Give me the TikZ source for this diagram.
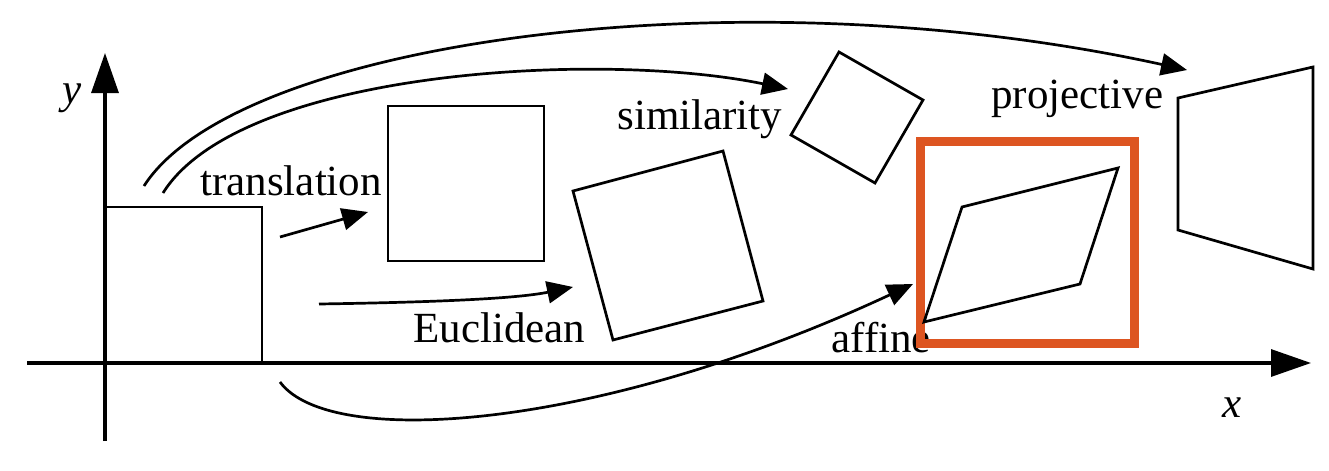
\documentclass[tikz,border=0pt]{standalone}
\usepackage{fontspec}
\setmainfont{Liberation Serif}
\usetikzlibrary{arrows.meta}
\definecolor{boxorange}{RGB}{221,85,33}
\begin{document}
\begin{tikzpicture}[x=0.5pt,y=-0.5pt,
  axis/.style={line width=1.6pt,-{Triangle[length=20pt,width=13.5pt]}},
  shapeline/.style={line width=1.35pt, line join=miter},
  xform/.style={line width=1.35pt,-{Triangle[length=13pt,width=11pt]}},
  lbl/.style={inner sep=0pt, anchor=base west, font=\fontsize{21.5pt}{26pt}\selectfont},
  axlbl/.style={inner sep=0pt, anchor=base west, font=\fontsize{21.5pt}{26pt}\selectfont\itshape},
  hilite/.style={draw=boxorange, line width=4.5pt}]
\useasboundingbox (0,0) rectangle (1329,471);
% axes
\coordinate (ystart) at (105,441);
\coordinate (yend) at (105,53);
\coordinate (xstart) at (27,363);
\coordinate (xend) at (1311,363);
\draw[axis] (ystart) -- (yend);
\draw[axis] (xstart) -- (xend);
\node[axlbl] (ylabel) at (62,103) {y};
\node[axlbl] (xlabel) at (1222,417) {x};
% original square
\draw[shapeline] (105,207) rectangle (262,363);
% translated square
\draw[shapeline] (388,106) rectangle (544,261);
% Euclidean square
\draw[shapeline] (573,191) -- (723,151) -- (763,301) -- (613,340) -- cycle;
% similarity square
\draw[shapeline] (839,52) -- (923,100) -- (875,183) -- (791,135) -- cycle;
% projective quad
\draw[shapeline] (1178,98) -- (1313,67) -- (1313,269) -- (1178,230) -- cycle;
% labels
\node[lbl] (translation) at (200,195) {translation};
\node[lbl] (similarity) at (617,129) {similarity};
\node[lbl] (euclidean) at (413,342) {Euclidean};
\node[lbl] (projective) at (991,108) {projective};
\node[lbl] (affine) at (831,352) {affine};
% transformation arrows
\coordinate (tA) at (280,237); \coordinate (tB) at (368,212);
\draw[xform] (tA) -- (tB);
\coordinate (eA) at (319,304); \coordinate (eB) at (573,287);
\draw[xform] (eA) .. controls (450,302) and (520,298) .. (eB);
\coordinate (sA) at (163,193); \coordinate (sB) at (788,89);
\draw[xform] (sA) .. controls (240,70) and (600,50) .. (sB);
\coordinate (pA) at (144,186); \coordinate (pB) at (1187,70);
\draw[xform] (pA) .. controls (236,42) and (736,-29) .. (pB);
\coordinate (aA) at (280,382); \coordinate (aB) at (913,284);
\draw[xform] (aA) .. controls (330,450) and (600,430) .. (aB);
% highlight box and affine shape
\draw[hilite] (920,141) rectangle (1134,343);
\draw[shapeline] (924,322) -- (962,207) -- (1118,168) -- (1080,284) -- cycle;
\end{tikzpicture}
\end{document}
